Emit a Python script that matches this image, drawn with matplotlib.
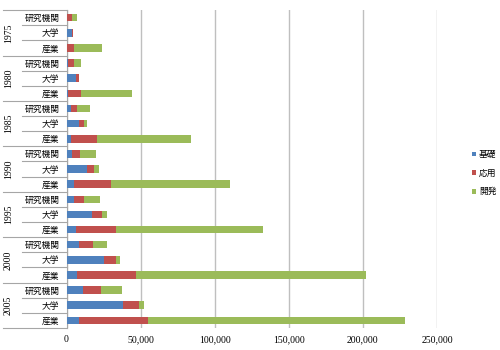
import matplotlib.pyplot as plt
import matplotlib.transforms as mtransforms
import numpy as np

plt.rcParams['font.family'] = ['Noto Sans CJK JP', 'DejaVu Sans']

years = ['1975', '1980', '1985', '1990', '1995', '2000', '2005']
sectors = ['研究機関', '大学', '産業']
series_names = ['基礎', '応用', '開発']

# values per (year, sector), order: 研究機関, 大学, 産業
basic = [600, 3800, 450,
         700, 6500, 900,
         3200, 8600, 3000,
         3900, 14000, 5000,
         5000, 17400, 6400,
         8300, 25500, 7000,
         11300, 37800, 8500]
applied = [2800, 300, 4900,
           4300, 1600, 8900,
           3800, 3400, 17900,
           5000, 4500, 25000,
           6800, 6800, 27200,
           9300, 8200, 40200,
           11900, 10800, 46800]
development = [3400, 0, 18900,
               4500, 0, 34700,
               8700, 1800, 63400,
               10900, 3200, 80500,
               10600, 3400, 98800,
               9800, 2300, 154800,
               14200, 3800, 173300]

colors = ['#4F81BD', '#C0504D', '#9BBB59']

fig = plt.figure(figsize=(5, 3.5), dpi=100)
ax = fig.add_axes([0.133, 0.063, 0.741, 0.908])

labels = [s for y in years for s in sectors]
pos = np.arange(len(labels))
left = np.zeros(len(labels))
for vals, name, c in zip([basic, applied, development], series_names, colors):
    ax.barh(pos, vals, left=left, height=0.5, color=c, label=name, zorder=3)
    left = left + np.array(vals)

ax.set_ylim(len(labels) - 0.5, -0.5)
ax.set_xlim(0, 250000)
ax.set_xticks(range(0, 250001, 50000))
ax.set_xticklabels([f'{v:,}' for v in range(0, 250001, 50000)],
                   family='Liberation Serif', fontsize=7)
ax.set_yticks(pos)
ax.set_yticklabels(labels, fontsize=6.3)
ax.tick_params(axis='y', length=0, pad=5)
ax.tick_params(axis='x', length=0, pad=5)
ax.grid(axis='x', color='#BFBFBF', linewidth=1, zorder=0)
for s in ['top', 'right', 'bottom']:
    ax.spines[s].set_visible(False)
ax.spines['left'].set_color('#A6A6A6')

trans = mtransforms.blended_transform_factory(ax.transAxes, ax.transData)
for i in range(len(labels) + 1):
    y = i - 0.5
    x0 = -0.172 if i % 3 == 0 else -0.119
    ax.plot([x0, 0], [y, y], color='#A6A6A6', linewidth=0.8,
            transform=trans, clip_on=False)
for g, yr in enumerate(years):
    ax.text(-0.157, g * 3 + 1, yr, rotation=90, ha='center', va='center',
            family='Liberation Serif', fontsize=7, transform=trans)

ax.legend(loc='center left', bbox_to_anchor=(1.085, 0.487), frameon=False,
          fontsize=6.3, handlelength=0.45, handleheight=0.45, handletextpad=0.35,
          labelspacing=1.1, borderaxespad=0)

plt.savefig('out.png', dpi=100)
